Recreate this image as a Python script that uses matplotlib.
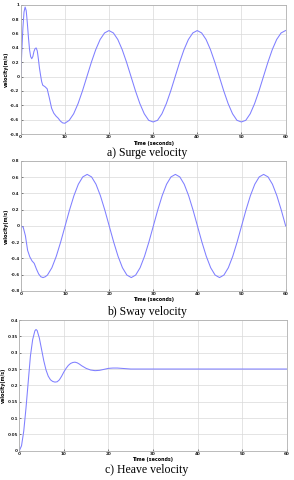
import matplotlib
matplotlib.use('Agg')
import matplotlib.pyplot as plt

# surge velocity (m/s)
surge_t = [0, 0.25, 0.5, 0.75, 1.0, 1.25, 1.5, 1.75, 2.0, 2.25, 2.5, 2.75, 3.0, 3.25,
           3.5, 3.75, 4.0, 4.25, 4.5, 4.75, 5.0, 5.5, 6.0, 6.5, 7.0, 7.5, 8.0, 8.5, 9.0, 9.5,
           10, 11, 12, 13, 14, 15, 16, 17, 18, 19, 20, 21, 22, 23, 24, 25, 26, 27, 28, 29,
           30, 31, 32, 33, 34, 35, 36, 37, 38, 39, 40, 41, 42, 43, 44, 45, 46, 47, 48, 49,
           50, 51, 52, 53, 54, 55, 56, 57, 58, 59, 60]
surge_v = [0, 0.35, 0.68, 0.9, 0.97, 0.92, 0.75, 0.55, 0.38, 0.28, 0.25, 0.28, 0.35, 0.39,
           0.40, 0.36, 0.25, 0.12, 0.02, -0.07, -0.12, -0.14, -0.17, -0.30, -0.44, -0.51, -0.55, -0.58, -0.62, -0.645,
           -0.65, -0.609, -0.518, -0.376, -0.198, 0, 0.198, 0.376, 0.518, 0.609,
           0.642, 0.609, 0.518, 0.376, 0.198, 0, -0.198, -0.376, -0.518, -0.609,
           -0.632, -0.609, -0.518, -0.376, -0.198, 0, 0.198, 0.376, 0.518, 0.609,
           0.642, 0.609, 0.518, 0.376, 0.198, 0, -0.198, -0.376, -0.518, -0.609,
           -0.632, -0.609, -0.518, -0.376, -0.198, 0, 0.198, 0.376, 0.518, 0.609, 0.642]

# sway velocity (m/s)
sway_t = [0, 0.5, 1.0, 1.5, 2.0, 2.5, 3.0, 3.5, 4.0, 4.5, 5.0, 5.5,
          6, 7, 8, 9, 10, 11, 12, 13, 14, 15, 16, 17, 18, 19, 20, 21, 22, 23, 24, 25,
          26, 27, 28, 29, 30, 31, 32, 33, 34, 35, 36, 37, 38, 39, 40, 41, 42, 43, 44, 45,
          46, 47, 48, 49, 50, 51, 52, 53, 54, 55, 56, 57, 58, 59, 60]
sway_v = [0, -0.015, -0.12, -0.30, -0.38, -0.43, -0.46, -0.53, -0.59, -0.625, -0.635, -0.625,
          -0.604, -0.514, -0.373, -0.196, 0, 0.196, 0.373, 0.514, 0.604, 0.635, 0.604, 0.514, 0.373, 0.196,
          0, -0.196, -0.373, -0.514, -0.604, -0.635, -0.604, -0.514, -0.373, -0.196,
          0, 0.196, 0.373, 0.514, 0.604, 0.635, 0.604, 0.514, 0.373, 0.196,
          0, -0.196, -0.373, -0.514, -0.604, -0.635, -0.604, -0.514, -0.373, -0.196,
          0, 0.196, 0.373, 0.514, 0.604, 0.635, 0.604, 0.514, 0.373, 0.196, 0]

# heave velocity (m/s)
heave_t = [0, 0.5, 1.0, 1.5, 2.0, 2.5, 3.0, 3.5, 3.75, 4.0, 4.5, 5.0, 5.5, 6.0, 6.5, 7.0, 7.5,
           8.0, 8.5, 9.0, 9.5, 10, 10.5, 11, 11.5, 12, 12.5, 13, 13.5, 14, 15, 16, 17, 18, 19,
           20, 21, 22, 23, 24, 25, 30, 35, 40, 45, 50, 55, 60]
heave_v = [0, 0.015, 0.06, 0.13, 0.21, 0.29, 0.34, 0.367, 0.371, 0.368, 0.345, 0.31, 0.275,
           0.247, 0.228, 0.217, 0.212, 0.210, 0.211, 0.217, 0.228, 0.241, 0.252, 0.261, 0.267,
           0.270, 0.271, 0.269, 0.265, 0.260, 0.252, 0.247, 0.245, 0.246, 0.249,
           0.252, 0.253, 0.253, 0.252, 0.251, 0.250, 0.250, 0.250, 0.250, 0.250, 0.250, 0.250, 0.250]

panels = [
    (surge_t, surge_v, [-0.8, 1.0], [-0.8, -0.6, -0.4, -0.2, 0, 0.2, 0.4, 0.6, 0.8, 1],
     ['-0.8', '-0.6', '-0.4', '-0.2', '0', '0.2', '0.4', '0.6', '0.8', '1'],
     [0.0704, 0.7208, 0.9007, 0.2690], 'a) Surge velocity', 0.681),
    (sway_t, sway_v, [-0.8, 0.8], [-0.8, -0.6, -0.4, -0.2, 0, 0.2, 0.4, 0.6, 0.8],
     ['-0.8', '-0.6', '-0.4', '-0.2', '0', '0.2', '0.4', '0.6', '0.8'],
     [0.0714, 0.3938, 0.9003, 0.2708], 'b) Sway velocity', 0.350),
    (heave_t, heave_v, [0, 0.4], [0, 0.05, 0.1, 0.15, 0.2, 0.25, 0.3, 0.35, 0.4],
     ['0', '0.05', '0.1', '0.15', '0.2', '0.25', '0.3', '0.35', '0.4'],
     [0.0656, 0.0610, 0.9096, 0.2723], 'c) Heave velocity', 0.021),
]

fig = plt.figure(figsize=(2.94, 4.80), dpi=100)
fig.patch.set_facecolor('white')

for t, v, ylim, yt, ytl, pos, cap, cap_y in panels:
    ax = fig.add_axes(pos)
    ax.plot(t, v, color='#7f7fff', lw=0.75)
    ax.set_xlim(0, 60)
    ax.set_ylim(*ylim)
    ax.set_xticks([0, 10, 20, 30, 40, 50, 60])
    ax.set_xticklabels(['0', '10', '20', '30', '40', '50', '60'], fontsize=3, fontweight='bold')
    ax.set_yticks(yt)
    ax.set_yticklabels(ytl, fontsize=3, fontweight='bold')
    ax.tick_params(direction='in', length=1.5, width=0.4, pad=1, colors='#222222')
    ax.grid(True, color='#d9d9d9', lw=0.5)
    for s in ax.spines.values():
        s.set_color('#b0b0b0')
        s.set_linewidth(0.6)
    ax.set_xlabel('Time (seconds)', fontsize=3.4, fontweight='bold', labelpad=0.8)
    ax.set_ylabel('velocity(m/s)', fontsize=3.4, fontweight='bold', labelpad=1)
    fig.text(0.5, cap_y, cap, ha='center', va='center', fontsize=8.5,
             family='Liberation Serif')

fig.savefig('out.png', dpi=100)
